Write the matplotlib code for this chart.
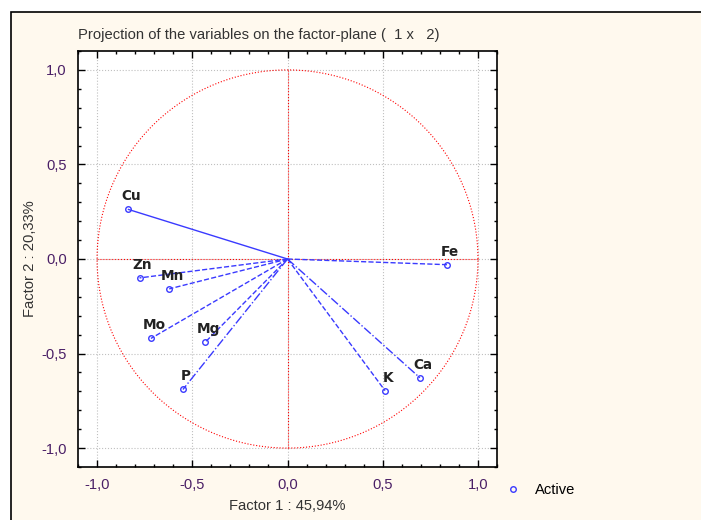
import numpy as np
import matplotlib.pyplot as plt
from matplotlib.patches import Rectangle
from matplotlib.ticker import MultipleLocator, FuncFormatter

# variable coordinates on factor 1 / factor 2
variables = ['Cu', 'Zn', 'Mn', 'Mo', 'Mg', 'P', 'Fe', 'Ca', 'K']
factor1 = [-0.835, -0.777, -0.621, -0.717, -0.432, -0.549, 0.837, 0.695, 0.512]
factor2 = [0.262, -0.100, -0.158, -0.420, -0.440, -0.690, -0.030, -0.628, -0.696]
line_styles = ['-', '--', '--', '--', '--', '-.', '--', '-.', '--']

title = 'Projection of the variables on the factor-plane (  1 x   2)'
xlabel = 'Factor 1 : 45,94%'
ylabel = 'Factor 2 : 20,33%'

cream = '#fff9ee'
blue = '#3a3aff'
tick_col = '#4a1f66'
fs = 10.6

fig = plt.figure(figsize=(7.01, 5.20), dpi=100)
fig.patch.set_facecolor('white')
bg = Rectangle((11 / 701, -0.05), 1.2, (520 - 12) / 520 + 0.05,
               transform=fig.transFigure, facecolor=cream,
               edgecolor='black', lw=1.2, zorder=-10)
fig.add_artist(bg)

ax = fig.add_axes([78 / 701, 53 / 520, (497 - 78) / 701, (467 - 51) / 520])
ax.set_facecolor('white')

# unit circle and axes cross
t = np.linspace(0, 2 * np.pi, 400)
ax.plot(np.cos(t), np.sin(t), color='red', lw=0.8, ls=':')
ax.plot([-1, 1], [0, 0], color='red', lw=0.8, ls=':')
ax.plot([0, 0], [-1, 1], color='red', lw=0.8, ls=':')

for name, x, y, ls in zip(variables, factor1, factor2, line_styles):
    ax.plot([0, x], [0, y], color=blue, lw=1, ls=ls)
    ax.plot(x, y, 'o', mfc='none', mec=blue, ms=4, mew=1)
    ax.annotate(name, (x, y), xytext=(3, 13), textcoords='offset pixels',
                ha='center', va='center', fontsize=9.8, fontweight='bold',
                color='#222222', family='DejaVu Sans')

ax.set_xlim(-1.1, 1.1)
ax.set_ylim(-1.1, 1.1)
ax.xaxis.set_major_locator(MultipleLocator(0.5))
ax.yaxis.set_major_locator(MultipleLocator(0.5))
ax.xaxis.set_minor_locator(MultipleLocator(0.1))
ax.yaxis.set_minor_locator(MultipleLocator(0.1))
fmt = FuncFormatter(lambda v, p: '{:.1f}'.format(v).replace('.', ','))
ax.xaxis.set_major_formatter(fmt)
ax.yaxis.set_major_formatter(fmt)
ax.tick_params(which='both', direction='in', top=True, right=True,
               labelsize=fs, labelcolor=tick_col, width=1)
ax.tick_params(which='major', length=5, pad=8)
ax.tick_params(which='minor', length=2.5)
ax.grid(True, which='major', color='#c0c0c0', ls=':', lw=0.8)
for s in ax.spines.values():
    s.set_linewidth(1.2)
for lab in ax.get_xticklabels() + ax.get_yticklabels():
    lab.set_family('Liberation Sans')

ax.set_title(title, loc='left', fontsize=fs, color='#333333', pad=9,
             family='Liberation Sans')
ax.set_xlabel(xlabel, fontsize=fs, color='#333333', family='Liberation Sans',
              labelpad=5)
ax.set_ylabel(ylabel, fontsize=fs, color='#333333', family='Liberation Sans',
              labelpad=3)

# legend outside the plot
ax.plot([], [], 'o', mfc='none', mec=blue, ms=4, mew=1, label='Active')
fig.legend(loc='center left', bbox_to_anchor=(485 / 701, 1 - 490 / 520),
           frameon=False, prop={'family': 'Liberation Sans', 'size': fs},
           handletextpad=0.5, handlelength=2)

fig.savefig('out.png', dpi=100, facecolor=fig.get_facecolor())
